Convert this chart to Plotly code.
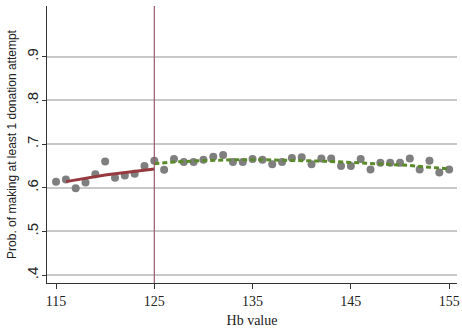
import plotly.graph_objects as go

# Binned scatter data
hb_vals = list(range(115, 156))
prob_vals = [0.614, 0.619, 0.599, 0.612, 0.631, 0.660, 0.623, 0.628, 0.632, 0.650,
             0.662, 0.641, 0.666, 0.659, 0.659, 0.664, 0.671, 0.675, 0.659, 0.659,
             0.666, 0.664, 0.654, 0.659, 0.668, 0.670, 0.654, 0.667, 0.667, 0.650,
             0.650, 0.666, 0.642, 0.657, 0.657, 0.657, 0.667, 0.642, 0.662, 0.635,
             0.642]

# Fitted line below cutoff
fit_lo_x = [116, 117, 118, 119, 120, 121, 122, 123, 124, 125]
fit_lo_y = [0.614, 0.618, 0.622, 0.625, 0.629, 0.632, 0.635, 0.638, 0.641, 0.643]

# Fitted line above cutoff
fit_hi_x = [125, 127, 130, 133, 136, 139, 142, 145, 148, 151, 153, 155]
fit_hi_y = [0.655, 0.659, 0.662, 0.664, 0.664, 0.663, 0.661, 0.658, 0.655, 0.651, 0.647, 0.643]

cutoff = 125
x_ticks = [115, 125, 135, 145, 155]
y_ticks = [0.4, 0.5, 0.6, 0.7, 0.8, 0.9]
y_tick_labels = [".4", ".5", ".6", ".7", ".8", ".9"]

fig = go.Figure()
fig.add_trace(go.Scatter(x=hb_vals, y=prob_vals, mode="markers",
                         marker=dict(color="#7f7f7f", size=8, line=dict(width=0)),
                         showlegend=False))
fig.add_trace(go.Scatter(x=fit_lo_x, y=fit_lo_y, mode="lines",
                         line=dict(color="#963a40", width=3), showlegend=False))
fig.add_trace(go.Scatter(x=fit_hi_x, y=fit_hi_y, mode="lines",
                         line=dict(color="#5b8a2a", width=3, dash="5px,3px"),
                         showlegend=False))

fig.add_shape(type="line", xref="x", yref="paper", x0=cutoff, x1=cutoff, y0=0, y1=1,
              line=dict(color="#9b5a6e", width=1.2), layer="above")

fig.update_layout(
    width=462, height=336,
    margin=dict(l=47, r=5, t=6, b=53),
    paper_bgcolor="white", plot_bgcolor="white",
    xaxis=dict(range=[114.08, 155.8], tickvals=x_ticks, showgrid=False, zeroline=False,
               automargin=False,
               showline=True, linecolor="#333333", linewidth=1,
               ticks="outside", ticklen=5, tickcolor="#333333",
               tickfont=dict(family="Liberation Serif", size=14, color="#222"),
               title=dict(text="Hb value", standoff=7,
                          font=dict(family="Liberation Serif", size=14, color="#222"))),
    yaxis=dict(range=[0.382, 1.016], tickvals=y_ticks, ticktext=y_tick_labels,
               automargin=False,
               tickangle=-90, showgrid=True, gridcolor="#c8c8c8", gridwidth=2,
               zeroline=False, showline=True, linecolor="#333333", linewidth=1,
               ticks="outside", ticklen=4, tickcolor="#333333",
               ticklabelstandoff=-2,
               tickfont=dict(family="Liberation Sans", size=15, color="#222"),
               title=dict(text="Prob. of making at least 1 donation attempt", standoff=4,
                          font=dict(family="Liberation Sans", size=12, color="#222"))),
)

fig.write_html("out.html", config={"displayModeBar": False})

# remove default page margin so the figure sits at the window's corner
with open("out.html", "r", encoding="utf-8") as f:
    html = f.read()
html = html.replace("<head>", "<head><style>html,body{margin:0;padding:0;overflow:hidden;}</style>", 1)
with open("out.html", "w", encoding="utf-8") as f:
    f.write(html)
